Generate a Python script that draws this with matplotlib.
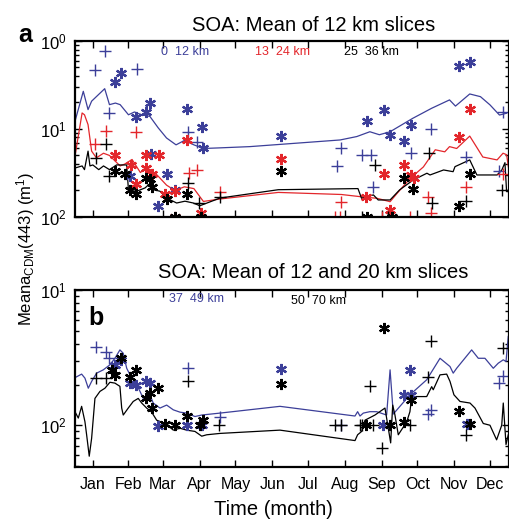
import matplotlib
matplotlib.use("Agg")
import matplotlib.pyplot as plt
from matplotlib.ticker import FixedLocator, FixedFormatter, LogLocator, NullFormatter

plt.rcParams['font.family'] = ['Liberation Sans', 'DejaVu Sans']
plt.rcParams['mathtext.fontset'] = 'custom'
plt.rcParams['mathtext.rm'] = 'Liberation Sans'
plt.rcParams['mathtext.it'] = 'Liberation Sans'

BLUE = '#3c3f99'
RED = '#e3262b'

months = ['Jan', 'Feb', 'Mar', 'Apr', 'May', 'Jun', 'Jul', 'Aug', 'Sep', 'Oct', 'Nov', 'Dec']
month_mid = [15, 45, 74, 105, 135, 166, 196, 227, 258, 288, 319, 349]

# ---- panel a: lines (day of year, value)
a_blue_day = [0, 7, 11, 14, 25, 29, 34, 38, 45, 50, 56, 63, 70, 77, 85, 92, 100, 108, 122, 147,
              223, 237, 248, 256, 265, 284, 300, 315, 320, 332, 341, 349, 357, 363]
a_blue_val = [0.122, 0.268, 0.166, 0.207, 0.287, 0.189, 0.197, 0.189, 0.145, 0.156, 0.145, 0.139,
              0.103, 0.079, 0.066, 0.074, 0.066, 0.060, 0.061, 0.063, 0.075, 0.082, 0.093, 0.086,
              0.093, 0.132, 0.172, 0.214, 0.182, 0.250, 0.233, 0.188, 0.144, 0.151]

a_red_day = [0, 6, 8, 11, 14, 18, 24, 29, 38, 42, 48, 55, 60, 69, 77, 84, 92, 100, 108, 122,
             171, 224, 240, 245, 254, 265, 271, 282, 293, 303, 311, 315, 321, 332, 343, 355, 360, 363, 364.5]
a_red_val = [0.049, 0.152, 0.145, 0.112, 0.056, 0.047, 0.053, 0.050, 0.038, 0.040, 0.045, 0.032,
             0.036, 0.030, 0.023, 0.020, 0.022, 0.021, 0.015, 0.016, 0.019, 0.018, 0.017, 0.0167,
             0.0163, 0.0149, 0.0186, 0.0275, 0.037, 0.058, 0.055, 0.063, 0.060, 0.083, 0.048,
             0.0445, 0.053, 0.051, 0.037]

a_blk_day = [0, 6, 8, 11, 12.6, 15, 20, 24, 29, 35, 43.5, 45, 52, 59, 62, 66, 71.5, 77, 85.5, 92.5,
             99.5, 105, 122, 171, 238, 241, 245, 251, 255, 265, 273, 284.5, 296, 298.6, 310, 318,
             319.6, 332, 338, 355, 359, 361.6, 363, 364.4]
a_blk_val = [0.036, 0.038, 0.0345, 0.056, 0.038, 0.039, 0.0345, 0.038, 0.0345, 0.039, 0.039, 0.020,
             0.0196, 0.0214, 0.0233, 0.0204, 0.0196, 0.0164, 0.0144, 0.0151, 0.0144, 0.0134, 0.0164,
             0.0204, 0.021, 0.0163, 0.017, 0.0178, 0.0156, 0.0156, 0.0203, 0.0263, 0.0314, 0.030,
             0.0342, 0.0327, 0.0373, 0.0445, 0.030, 0.030, 0.0342, 0.0414, 0.0194, 0.0194]

# ---- panel a: points
a_blue_plus_day = [25, 17, 52, 29, 95, 103, 224, 220, 241, 249, 251, 283, 299, 329, 360, 357]
a_blue_plus_val = [0.76, 0.47, 0.48, 0.152, 0.092, 0.071, 0.061, 0.038, 0.050, 0.050, 0.022, 0.053,
                   0.10, 0.048, 0.157, 0.033]
a_blue_star_day = [39, 34, 63, 60, 51, 94, 107, 108, 77, 46, 84, 70, 64, 173, 246, 260, 283, 265, 277, 323, 332]
a_blue_star_val = [0.43, 0.34, 0.197, 0.156, 0.136, 0.169, 0.105, 0.061, 0.031, 0.029, 0.020, 0.0132,
                   0.052, 0.083, 0.124, 0.164, 0.111, 0.086, 0.073, 0.52, 0.57]
a_red_plus_day = [17, 26, 51, 96, 103, 122, 224, 297, 299, 329, 360, 219, 223, 258, 282]
a_red_plus_val = [0.068, 0.096, 0.092, 0.032, 0.034, 0.019, 0.0147, 0.017, 0.011, 0.022, 0.031,
                  0.01, 0.01, 0.01, 0.01]
a_red_star_day = [34, 94, 60, 71, 60, 65, 51, 76, 84, 84, 106, 47, 173, 260, 277, 283, 285, 323, 332, 265, 245]
a_red_star_val = [0.050, 0.075, 0.050, 0.050, 0.036, 0.031, 0.0235, 0.018, 0.0197, 0.01, 0.011, 0.039,
                  0.045, 0.031, 0.039, 0.030, 0.0275, 0.080, 0.169, 0.012, 0.0167]
a_blk_star_day = [42, 34, 46, 51, 60, 63, 65, 77, 94, 84, 106, 173, 277, 284, 323, 332, 246, 267]
a_blk_star_val = [0.031, 0.033, 0.020, 0.018, 0.0275, 0.027, 0.022, 0.016, 0.018, 0.01, 0.01, 0.033,
                  0.0275, 0.021, 0.0134, 0.031, 0.01, 0.01]
a_blk_plus_day = [26, 18, 29, 95, 104, 122, 252, 298, 300, 329, 359, 241, 263]
a_blk_plus_val = [0.068, 0.047, 0.029, 0.024, 0.0144, 0.017, 0.039, 0.054, 0.0143, 0.0153, 0.020, 0.01, 0.01]

# ---- panel b: lines
b_blue_day = [0, 5.6, 8.4, 11.2, 14, 18.2, 23.8, 29.4, 33.6, 37.8, 40.6, 43.5, 46.3, 51.9, 54.7, 57.4,
              63.1, 65.8, 71.5, 77.1, 82.7, 88.3, 93.9, 100.9, 106.6, 122, 172.4, 235.5, 237.7, 239.7,
              242.5, 248, 253.7, 262.1, 265, 267.7, 281.7, 295.8, 307, 315.4, 318.1, 321, 333.6,
              339.2, 344.8, 351.8, 356, 360.2, 362.5, 364.4]
b_blue_val = [0.0225, 0.0239, 0.0223, 0.0188, 0.0211, 0.0243, 0.0257, 0.028, 0.0313, 0.0361, 0.0341,
              0.0264, 0.0236, 0.0199, 0.0178, 0.0158, 0.0168, 0.0146, 0.0134, 0.0141, 0.013, 0.0125,
              0.0123, 0.0116, 0.0119, 0.0123, 0.0138, 0.0117, 0.0126, 0.0117, 0.0123, 0.0126, 0.0126,
              0.0119, 0.0257, 0.0121, 0.0168, 0.0217, 0.0313, 0.0272, 0.0243, 0.0264, 0.0361, 0.0313,
              0.0313, 0.0264, 0.0288, 0.0305, 0.0296, 0.0454]

b_blk_day = [0, 2.8, 5.6, 8.4, 9.8, 12, 14, 16.8, 21, 25.2, 29.4, 33.6, 37.8, 39.3, 40.6, 44.8, 49,
             53.2, 56.1, 60.3, 64.5, 68.7, 77.1, 82.7, 88.3, 93.9, 100.9, 106.6, 110.8, 122, 172.4,
             235.5, 237.7, 241.1, 243.9, 252.3, 260.7, 263.5, 265.5, 267.2, 269.1, 271.9, 279, 281.7,
             283.2, 295.8, 300, 301.3, 307, 312.6, 315.4, 318.7, 323.8, 332.2, 336.4, 343.4, 349,
             354.6, 358.9, 360.2, 362.5, 364.4]
b_blk_val = [0.0126, 0.0113, 0.0138, 0.0106, 0.0085, 0.0059, 0.008, 0.0158, 0.0178, 0.0188, 0.0208,
             0.0205, 0.0194, 0.0134, 0.0119, 0.0134, 0.015, 0.0158, 0.0146, 0.0134, 0.0125, 0.0109,
             0.0102, 0.0092, 0.0095, 0.0092, 0.009, 0.0083, 0.0085, 0.0087, 0.0092, 0.0077, 0.0085,
             0.009, 0.0109, 0.0119, 0.0134, 0.0095, 0.0074, 0.0141, 0.0119, 0.0085, 0.0106, 0.0126,
             0.0163, 0.0163, 0.0193, 0.0183, 0.0236, 0.0239, 0.0211, 0.0168, 0.015, 0.0146, 0.0134,
             0.0103, 0.010, 0.0078, 0.010, 0.0146, 0.0072, 0.0085]

# ---- panel b: points
b_blue_plus_day = [18, 26, 29, 95, 122, 360, 357, 299, 297, 224]
b_blue_plus_val = [0.0377, 0.0346, 0.0313, 0.0264, 0.0115, 0.023, 0.0205, 0.013, 0.0121, 0.010]
b_blue_star_day = [39, 34, 46, 51, 60, 63, 70, 94, 107, 173, 282, 277, 283, 330, 259]
b_blue_star_val = [0.0305, 0.0277, 0.0205, 0.0199, 0.0211, 0.0205, 0.0098, 0.010, 0.010, 0.026,
                   0.0257, 0.0168, 0.0168, 0.0103, 0.010]
b_blk_star_day = [39, 31, 34, 51, 46, 70, 63, 60, 65, 76, 84, 94, 108, 105, 173, 260, 283, 277, 323, 332, 245, 265]
b_blk_star_val = [0.0313, 0.0257, 0.0236, 0.0257, 0.0226, 0.019, 0.0173, 0.0158, 0.0135, 0.0102,
                  0.0100, 0.0118, 0.0109, 0.010, 0.0202, 0.0523, 0.0154, 0.0105, 0.0128, 0.0102, 0.010, 0.010]
b_blk_plus_day = [18, 26, 95, 121, 219, 224, 241, 299, 248, 297, 360, 329, 258, 282, 240, 251]
b_blk_plus_val = [0.0223, 0.0223, 0.0213, 0.010, 0.010, 0.010, 0.010, 0.0421, 0.0194, 0.0226,
                  0.0372, 0.0085, 0.0068, 0.010, 0.010, 0.010]

STAR = (6, 2, 0)


def pts(ax, x, y, c, star):
    if star:
        ax.plot(x, y, ls='none', marker=STAR, ms=8, mew=1.6, color=c)
    else:
        ax.plot(x, y, ls='none', marker='+', ms=8, mew=1.0, color=c)


def style(ax, ylo, yticks, ylabels):
    ax.set_yscale('log')
    ax.set_xlim(0, 365)
    ax.set_ylim(ylo, yticks[-1])
    ax.yaxis.set_major_locator(FixedLocator(yticks))
    ax.yaxis.set_major_formatter(FixedFormatter(ylabels))
    ax.yaxis.set_minor_locator(LogLocator(base=10, subs=range(2, 10)))
    ax.yaxis.set_minor_formatter(NullFormatter())
    ax.set_xticks(month_mid)
    ax.tick_params(which='both', direction='in', top=True, right=True, labelsize=11.5, width=1)
    ax.tick_params(which='major', length=5)
    ax.tick_params(which='minor', length=3)
    ax.tick_params(axis='y', pad=6, labelsize=12)
    for s in ax.spines.values():
        s.set_linewidth(1.6)


fig = plt.figure(figsize=(5.10, 5.19), dpi=100)

# panel a
ax1 = fig.add_axes([0.147, 0.582, 0.851, 0.339])
ax1.plot(a_blue_day, a_blue_val, color=BLUE, lw=0.9)
ax1.plot(a_red_day, a_red_val, color=RED, lw=0.9)
ax1.plot(a_blk_day, a_blk_val, color='black', lw=0.9)
pts(ax1, a_blue_plus_day, a_blue_plus_val, BLUE, False)
pts(ax1, a_blue_star_day, a_blue_star_val, BLUE, True)
pts(ax1, a_red_plus_day, a_red_plus_val, RED, False)
pts(ax1, a_red_star_day, a_red_star_val, RED, True)
pts(ax1, a_blk_plus_day, a_blk_plus_val, 'black', False)
pts(ax1, a_blk_star_day, a_blk_star_val, 'black', True)
style(ax1, 0.01, [0.01, 0.1, 1.0], ['$10^2$', '$10^1$', '$10^0$'])
ax1.set_xticklabels([])
ax1.set_title('SOA: Mean of 12 km slices', fontsize=14.5, x=0.55, pad=7)
ax1.text(0.253, 0.94, '0  12 km', color=BLUE, fontsize=9, ha='center', va='center', transform=ax1.transAxes)
ax1.text(0.478, 0.94, '13  24 km', color=RED, fontsize=9, ha='center', va='center', transform=ax1.transAxes)
ax1.text(0.683, 0.94, '25  36 km', color='black', fontsize=9, ha='center', va='center', transform=ax1.transAxes)
fig.text(0.049, 0.933, 'a', fontsize=18, fontweight='bold', ha='center', va='center')

# panel b
ax2 = fig.add_axes([0.147, 0.100, 0.851, 0.341])
ax2.plot(b_blue_day, b_blue_val, color=BLUE, lw=0.9)
ax2.plot(b_blk_day, b_blk_val, color='black', lw=0.9)
pts(ax2, b_blue_plus_day, b_blue_plus_val, BLUE, False)
pts(ax2, b_blue_star_day, b_blue_star_val, BLUE, True)
pts(ax2, b_blk_plus_day, b_blk_plus_val, 'black', False)
pts(ax2, b_blk_star_day, b_blk_star_val, 'black', True)
style(ax2, 0.0049, [0.01, 0.1], ['$10^2$', '$10^1$'])
ax2.set_xticklabels(months)
ax2.tick_params(axis='x', pad=7)
ax2.set_title('SOA: Mean of 12 and 20 km slices', fontsize=14.5, x=0.55, pad=9)
ax2.text(0.281, 0.95, '37  49 km', color=BLUE, fontsize=9, ha='center', va='center', transform=ax2.transAxes)
ax2.text(0.561, 0.94, '50  70 km', color='black', fontsize=9, ha='center', va='center', transform=ax2.transAxes)
ax2.text(0.048, 0.84, 'b', fontsize=18, fontweight='bold', ha='center', va='center', transform=ax2.transAxes)
ax2.set_xlabel('Time (month)', fontsize=14.5, labelpad=6, x=0.458)

fig.text(0.051, 0.52, 'Meana$_{\\rm CDM}$(443) (m$^{1}$)', rotation=90, fontsize=12,
         ha='center', va='center')

fig.savefig('out.png', dpi=100)
